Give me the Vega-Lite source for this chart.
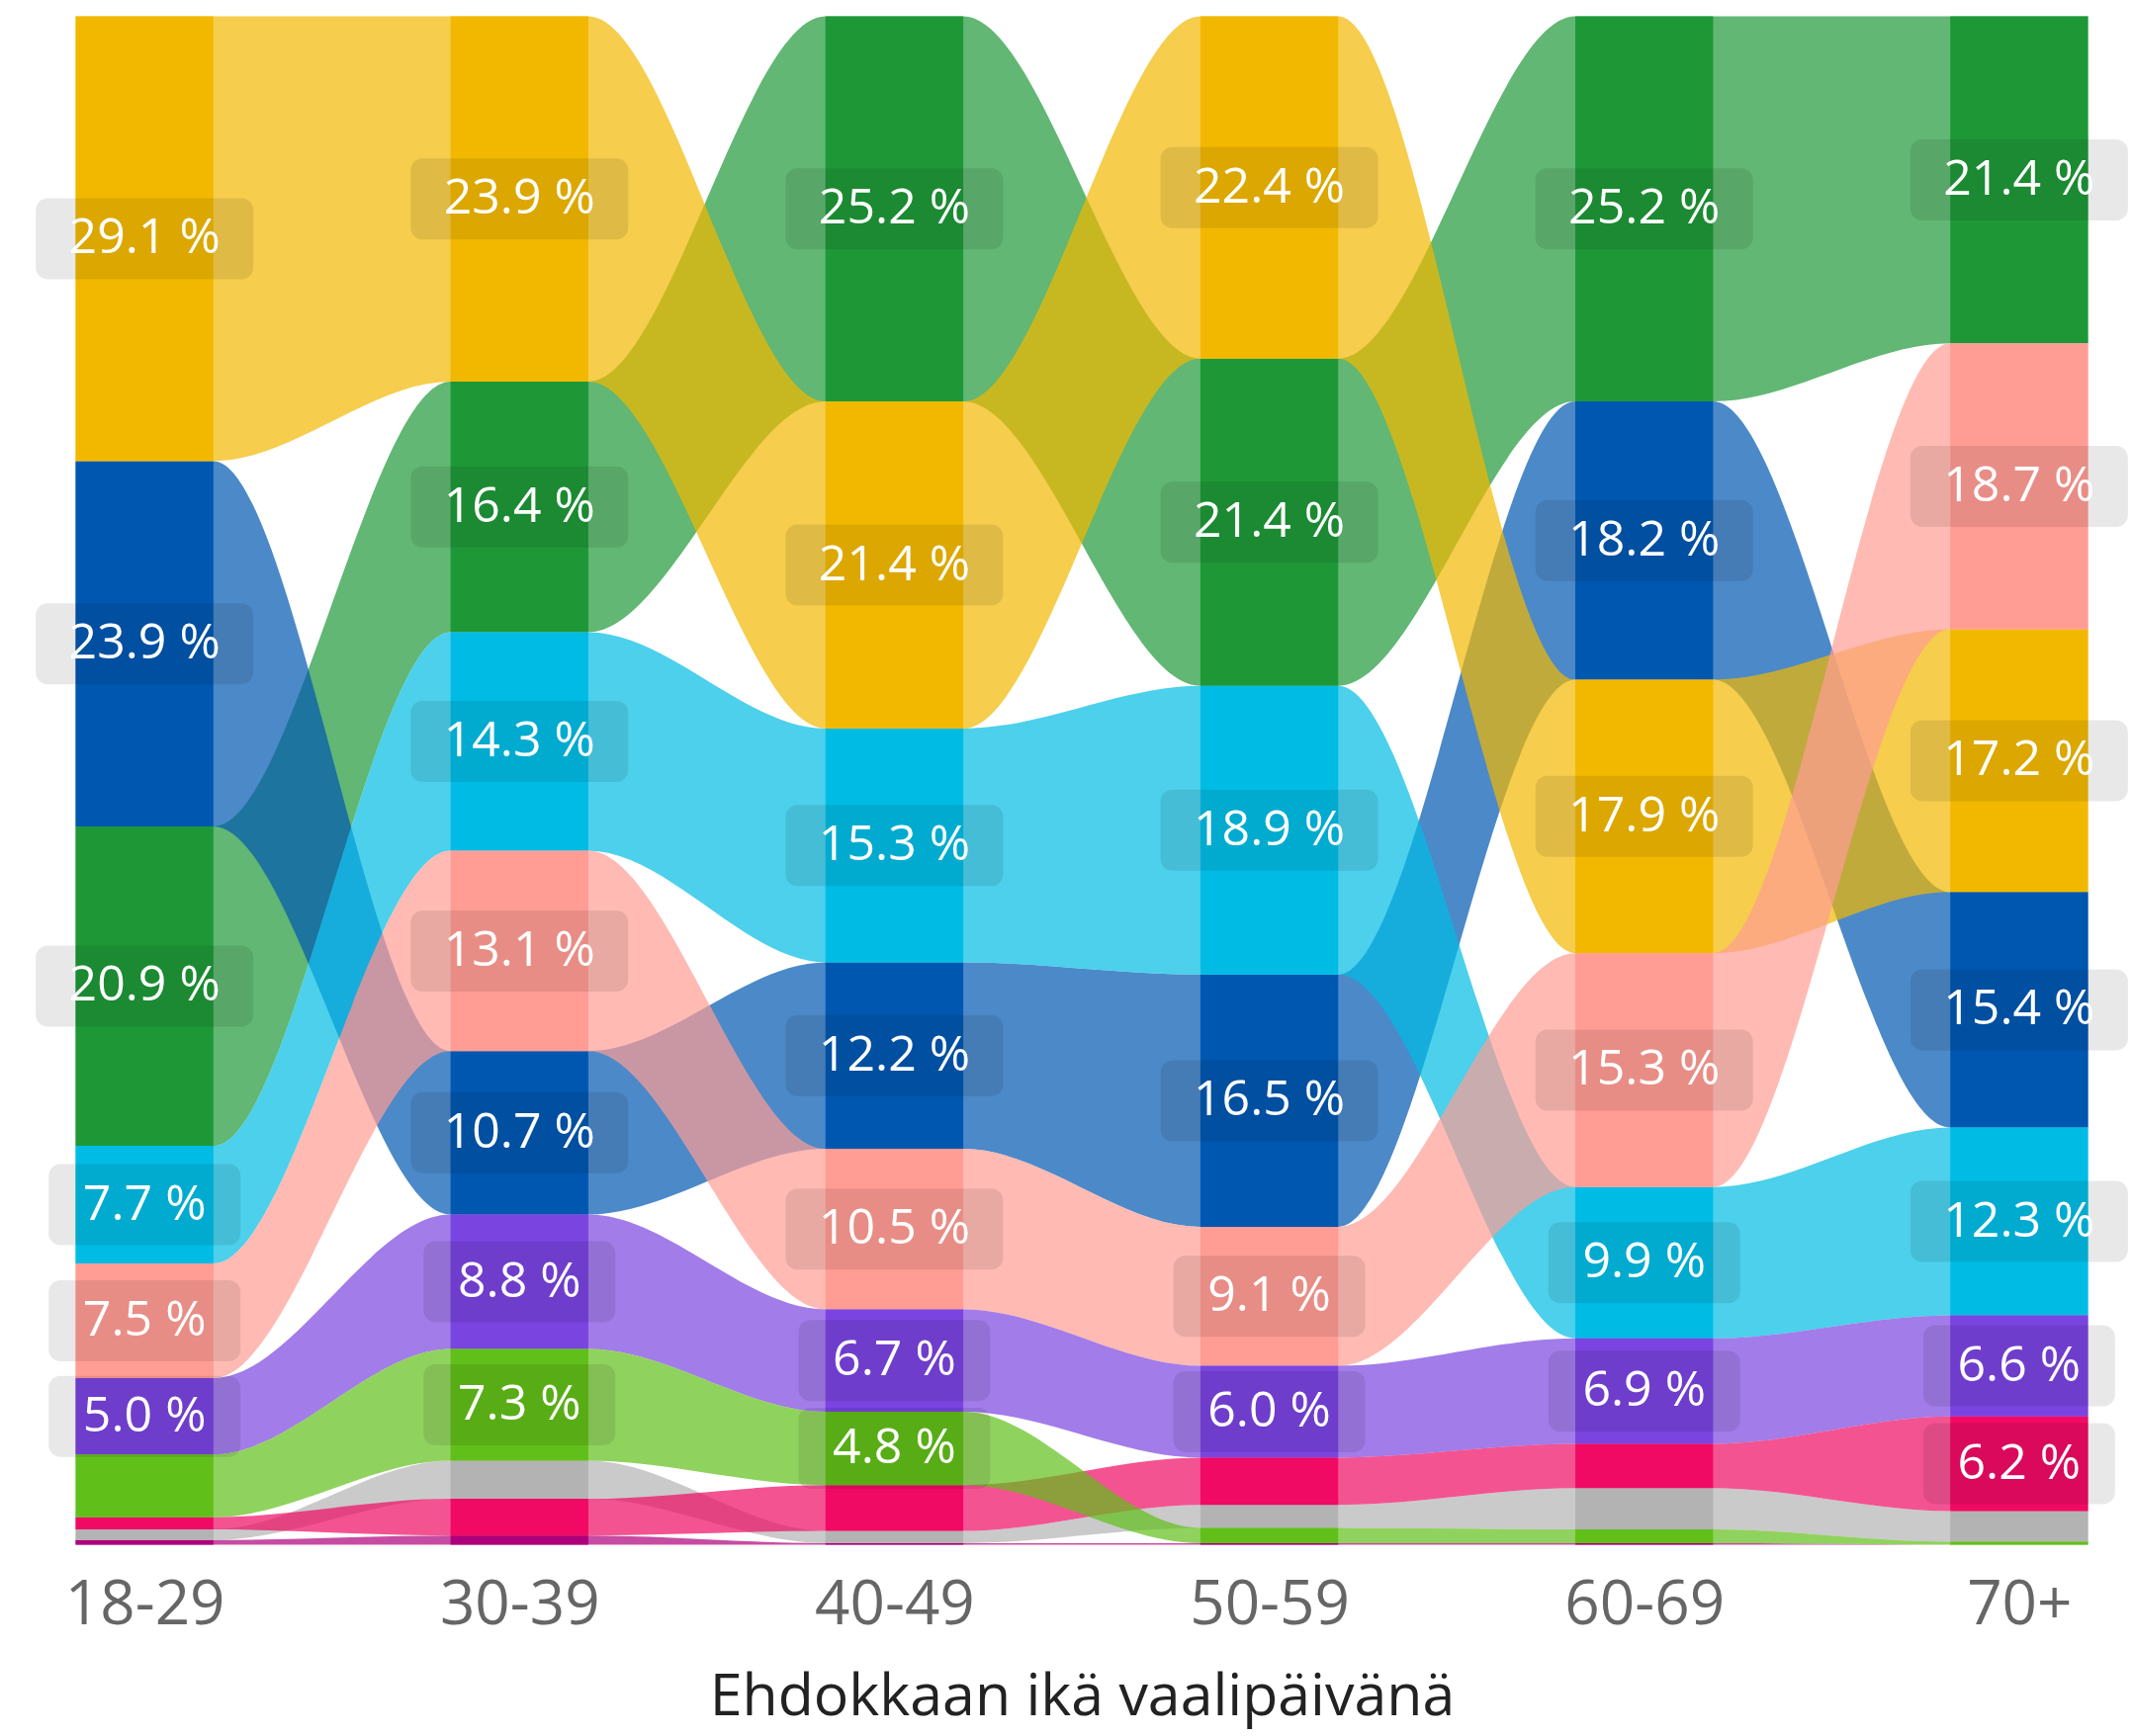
{
  "$schema": "https://vega.github.io/schema/vega-lite/v6.json",
  "width": 2045,
  "height": 1546,
  "autosize": {"type": "none"},
  "padding": {"left": 71.5, "top": 16.5, "right": 40.5, "bottom": 193.5},
  "background": "white",
  "config": {"view": {"stroke": null}, "font": "Open Sans"},
  "data": {
    "values": [
      {"age": "18-29", "party": "vihreä", "pct": 20.9},
      {"age": "18-29", "party": "sininen", "pct": 23.9},
      {"age": "18-29", "party": "keltainen", "pct": 29.1},
      {"age": "18-29", "party": "turkoosi", "pct": 7.7},
      {"age": "18-29", "party": "lohenpunainen", "pct": 7.5},
      {"age": "18-29", "party": "violetti", "pct": 5.0},
      {"age": "18-29", "party": "viininpunainen", "pct": 0.3},
      {"age": "18-29", "party": "harmaa", "pct": 0.7},
      {"age": "18-29", "party": "magenta", "pct": 0.8},
      {"age": "18-29", "party": "vaaleanvihreä", "pct": 4.1},

      {"age": "30-39", "party": "vihreä", "pct": 16.4},
      {"age": "30-39", "party": "sininen", "pct": 10.7},
      {"age": "30-39", "party": "keltainen", "pct": 23.9},
      {"age": "30-39", "party": "turkoosi", "pct": 14.3},
      {"age": "30-39", "party": "lohenpunainen", "pct": 13.1},
      {"age": "30-39", "party": "violetti", "pct": 8.8},
      {"age": "30-39", "party": "viininpunainen", "pct": 0.6},
      {"age": "30-39", "party": "harmaa", "pct": 2.5},
      {"age": "30-39", "party": "magenta", "pct": 2.4},
      {"age": "30-39", "party": "vaaleanvihreä", "pct": 7.3},

      {"age": "40-49", "party": "vihreä", "pct": 25.2},
      {"age": "40-49", "party": "sininen", "pct": 12.2},
      {"age": "40-49", "party": "keltainen", "pct": 21.4},
      {"age": "40-49", "party": "turkoosi", "pct": 15.3},
      {"age": "40-49", "party": "lohenpunainen", "pct": 10.5},
      {"age": "40-49", "party": "violetti", "pct": 6.7},
      {"age": "40-49", "party": "viininpunainen", "pct": 0.1},
      {"age": "40-49", "party": "harmaa", "pct": 0.8},
      {"age": "40-49", "party": "magenta", "pct": 3.0},
      {"age": "40-49", "party": "vaaleanvihreä", "pct": 4.8},

      {"age": "50-59", "party": "vihreä", "pct": 21.4},
      {"age": "50-59", "party": "sininen", "pct": 16.5},
      {"age": "50-59", "party": "keltainen", "pct": 22.4},
      {"age": "50-59", "party": "turkoosi", "pct": 18.9},
      {"age": "50-59", "party": "lohenpunainen", "pct": 9.1},
      {"age": "50-59", "party": "violetti", "pct": 6.0},
      {"age": "50-59", "party": "viininpunainen", "pct": 0.1},
      {"age": "50-59", "party": "harmaa", "pct": 1.5},
      {"age": "50-59", "party": "magenta", "pct": 3.1},
      {"age": "50-59", "party": "vaaleanvihreä", "pct": 1.0},

      {"age": "60-69", "party": "vihreä", "pct": 25.2},
      {"age": "60-69", "party": "sininen", "pct": 18.2},
      {"age": "60-69", "party": "keltainen", "pct": 17.9},
      {"age": "60-69", "party": "turkoosi", "pct": 9.9},
      {"age": "60-69", "party": "lohenpunainen", "pct": 15.3},
      {"age": "60-69", "party": "violetti", "pct": 6.9},
      {"age": "60-69", "party": "viininpunainen", "pct": 0.1},
      {"age": "60-69", "party": "harmaa", "pct": 2.7},
      {"age": "60-69", "party": "magenta", "pct": 2.9},
      {"age": "60-69", "party": "vaaleanvihreä", "pct": 0.9},

      {"age": "70+", "party": "vihreä", "pct": 21.4},
      {"age": "70+", "party": "sininen", "pct": 15.4},
      {"age": "70+", "party": "keltainen", "pct": 17.2},
      {"age": "70+", "party": "turkoosi", "pct": 12.3},
      {"age": "70+", "party": "lohenpunainen", "pct": 18.7},
      {"age": "70+", "party": "violetti", "pct": 6.6},
      {"age": "70+", "party": "viininpunainen", "pct": 0.0},
      {"age": "70+", "party": "harmaa", "pct": 2.0},
      {"age": "70+", "party": "magenta", "pct": 6.2},
      {"age": "70+", "party": "vaaleanvihreä", "pct": 0.2}
    ]
  },
  "transform": [
    {"stack": "pct", "groupby": ["age"], "sort": [{"field": "pct", "order": "ascending"}], "as": ["y0", "y1"]},
    {"calculate": "indexof(['18-29','30-39','40-49','50-59','60-69','70+'], datum.age)", "as": "idx"},
    {"calculate": "datum.idx - 0.18373", "as": "xl"},
    {"calculate": "datum.idx + 0.18373", "as": "xr"},
    {"calculate": "(datum.y0 + datum.y1) / 2", "as": "ymid"},
    {"calculate": "format(datum.pct, '.1f') + ' %'", "as": "label"}
  ],
  "layer": [
    {
      "transform": [{"fold": ["xl", "xr"], "as": ["edge", "x"]}],
      "mark": {"type": "area", "interpolate": "monotone", "opacity": 0.7},
      "encoding": {
        "x": {
          "field": "x", "type": "quantitative",
          "scale": {"domain": [-0.18373, 5.18373], "nice": false, "zero": false},
          "axis": {
            "values": [0, 1, 2, 3, 4, 5],
            "labelExpr": "['18-29','30-39','40-49','50-59','60-69','70+'][datum.value]",
            "title": "Ehdokkaan ikä vaalipäivänä",
            "grid": false, "domain": false, "ticks": false, "tickSize": 0,
            "labelFont": "Open Sans", "labelFontSize": 62, "labelColor": "#666666",
            "labelPadding": 80, "labelBaseline": "alphabetic", "labelFlush": false, "labelOverlap": false,
            "titleFont": "Open Sans", "titleFontSize": 59, "titleFontWeight": "normal",
            "titleColor": "#222222", "titleBaseline": "alphabetic", "titleY": 172
          }
        },
        "y": {"field": "y1", "type": "quantitative", "scale": {"domain": [0, 100], "nice": false, "zero": false}, "axis": null},
        "y2": {"field": "y0"},
        "color": {
          "field": "party", "type": "nominal", "legend": null,
          "scale": {
            "domain": ["keltainen", "vihreä", "sininen", "turkoosi", "lohenpunainen", "violetti", "vaaleanvihreä", "magenta", "harmaa", "viininpunainen"],
            "range": ["#F2B800", "#1E9837", "#0057B0", "#00BCE4", "#FF9C94", "#7A44E0", "#61BF1A", "#F00A64", "#B3B3B3", "#AE007A"]
          }
        }
      }
    },
    {
      "mark": {"type": "rect"},
      "encoding": {
        "x": {"field": "xl", "type": "quantitative"},
        "x2": {"field": "xr"},
        "y": {"field": "y1", "type": "quantitative"},
        "y2": {"field": "y0"},
        "color": {"field": "party", "type": "nominal", "legend": null}
      }
    },
    {
      "transform": [
        {"filter": "datum.pct >= 10"},
        {"calculate": "datum.ymid - 2.652", "as": "yb0"},
        {"calculate": "datum.ymid + 2.652", "as": "yb1"}
      ],
      "mark": {"type": "bar", "width": 220, "cornerRadius": 12, "color": "#000000", "opacity": 0.09},
      "encoding": {
        "x": {"field": "idx", "type": "quantitative"},
        "y": {"field": "yb0", "type": "quantitative"},
        "y2": {"field": "yb1"}
      }
    },
    {
      "transform": [
        {"filter": "datum.pct >= 4.5 && datum.pct < 10"},
        {"calculate": "datum.ymid - 2.652", "as": "yb0"},
        {"calculate": "datum.ymid + 2.652", "as": "yb1"}
      ],
      "mark": {"type": "bar", "width": 194, "cornerRadius": 12, "color": "#000000", "opacity": 0.09},
      "encoding": {
        "x": {"field": "idx", "type": "quantitative"},
        "y": {"field": "yb0", "type": "quantitative"},
        "y2": {"field": "yb1"}
      }
    },
    {
      "transform": [{"filter": "datum.pct >= 4.5"}],
      "mark": {"type": "text", "color": "white", "font": "Open Sans", "fontSize": 50, "align": "center", "baseline": "middle"},
      "encoding": {
        "x": {"field": "idx", "type": "quantitative"},
        "y": {"field": "ymid", "type": "quantitative"},
        "text": {"field": "label"}
      }
    }
  ]
}
